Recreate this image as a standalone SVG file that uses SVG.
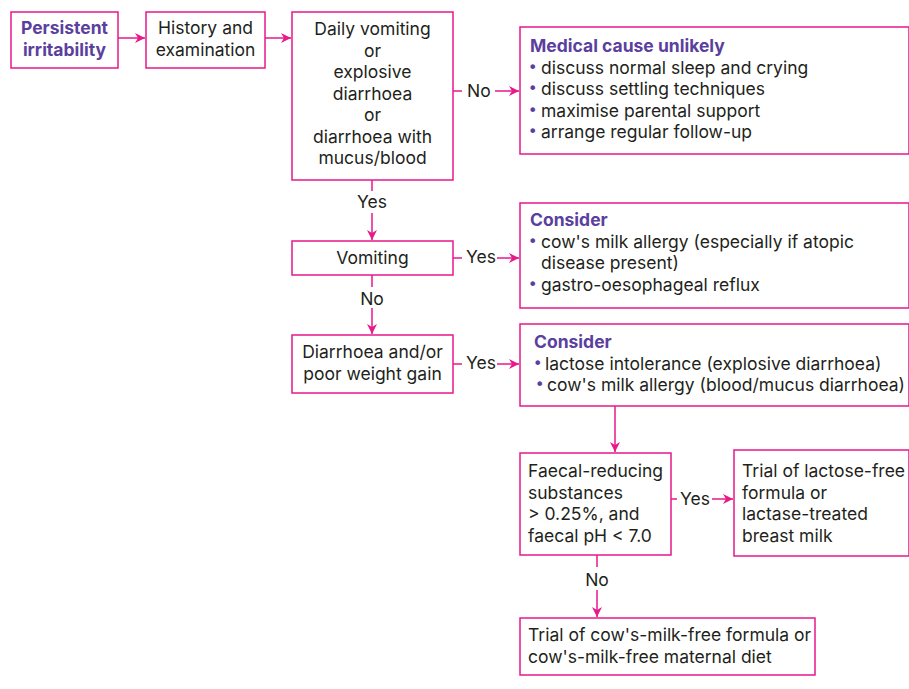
<svg xmlns="http://www.w3.org/2000/svg" width="909" height="689" viewBox="0 0 909 689">
<defs>
<marker id="ah" viewBox="0 0 10 10" refX="10" refY="5" markerWidth="10" markerHeight="10" markerUnits="userSpaceOnUse" orient="auto">
<path d="M0,0 L10,5 L0,10 L3,5 Z" fill="#E8198B"/>
</marker>
<style>
.box{fill:#fff;stroke:#E8198B;stroke-width:1.5}
.t{font-family:Inter,"Noto Sans",sans-serif;font-size:17.5px;fill:#231F20}
.h{font-family:Inter,"Noto Sans",sans-serif;font-size:17.5px;font-weight:700;fill:#5B3F9E}
.b{font-family:"DejaVu Sans",sans-serif;font-size:16px;fill:#5B3F9E}
.c{stroke:#E8198B;stroke-width:1.5;fill:none}
.ca{stroke:#E8198B;stroke-width:1.5;fill:none;marker-end:url(#ah)}
.m{text-anchor:middle}
</style>
</defs>
<rect width="909" height="689" fill="#fff"/>
<g id="connectors">
<line class="ca" x1="118" y1="38" x2="145" y2="38"/>
<line class="ca" x1="265" y1="38" x2="291" y2="38"/>
<line class="c" x1="453" y1="91" x2="462" y2="91"/>
<text class="t" x="467" y="97">No</text>
<line class="ca" x1="495" y1="91" x2="519" y2="91"/>
<line class="c" x1="372" y1="180" x2="372" y2="191"/>
<text class="t m" x="372" y="208">Yes</text>
<line class="ca" x1="372" y1="213" x2="372" y2="240"/>
<line class="c" x1="453" y1="258" x2="462" y2="258"/>
<text class="t" x="466" y="263">Yes</text>
<line class="ca" x1="497" y1="258" x2="519" y2="258"/>
<line class="c" x1="372" y1="275" x2="372" y2="287"/>
<text class="t m" x="372" y="305">No</text>
<line class="ca" x1="372" y1="308" x2="372" y2="334"/>
<line class="c" x1="453" y1="364" x2="462" y2="364"/>
<text class="t" x="466" y="369">Yes</text>
<line class="ca" x1="497" y1="364" x2="519" y2="364"/>
<line class="ca" x1="615" y1="406" x2="615" y2="452"/>
<line class="c" x1="671" y1="499" x2="677" y2="499"/>
<text class="t" x="680" y="505">Yes</text>
<line class="ca" x1="712" y1="499" x2="733" y2="499"/>
<line class="c" x1="597" y1="555" x2="597" y2="567"/>
<text class="t m" x="597" y="586">No</text>
<line class="ca" x1="597" y1="590" x2="597" y2="617"/>
</g>
<g id="n1">
<rect class="box" x="11" y="12" width="107" height="56"/>
<text class="h m" x="64.5" y="34">Persistent</text>
<text class="h m" x="64.5" y="56">irritability</text>
</g>
<g id="n2">
<rect class="box" x="146" y="12" width="119" height="56"/>
<text class="t m" x="205.5" y="34">History and</text>
<text class="t m" x="205.5" y="56">examination</text>
</g>
<g id="n3">
<rect class="box" x="292" y="12" width="161" height="168"/>
<text class="t m" x="372.5" y="35">Daily vomiting</text>
<text class="t m" x="372.5" y="57">or</text>
<text class="t m" x="372.5" y="78">explosive</text>
<text class="t m" x="372.5" y="100">diarrhoea</text>
<text class="t m" x="372.5" y="121">or</text>
<text class="t m" x="372.5" y="143">diarrhoea with</text>
<text class="t m" x="372.5" y="164">mucus/blood</text>
</g>
<g id="n4">
<rect class="box" x="520" y="27" width="389" height="127"/>
<text class="h" x="530" y="52">Medical cause unlikely</text>
<text class="b" x="528" y="73">•</text><text class="t" x="541" y="74">discuss normal sleep and crying</text>
<text class="b" x="528" y="94">•</text><text class="t" x="541" y="95">discuss settling techniques</text>
<text class="b" x="528" y="116">•</text><text class="t" x="541" y="117">maximise parental support</text>
<text class="b" x="528" y="137">•</text><text class="t" x="541" y="138">arrange regular follow-up</text>
</g>
<g id="n5">
<rect class="box" x="292" y="241" width="161" height="34"/>
<text class="t m" x="372.5" y="264">Vomiting</text>
</g>
<g id="n6">
<rect class="box" x="520" y="203" width="389" height="105"/>
<text class="h" x="530" y="226">Consider</text>
<text class="b" x="528" y="247">•</text><text class="t" x="541" y="248">cow's milk allergy (especially if atopic</text>
<text class="t" x="541" y="269">disease present)</text>
<text class="b" x="528" y="290">•</text><text class="t" x="541" y="291">gastro-oesophageal reflux</text>
</g>
<g id="n7">
<rect class="box" x="292" y="335" width="161" height="58"/>
<text class="t m" x="372.5" y="358">Diarrhoea and/or</text>
<text class="t m" x="372.5" y="380">poor weight gain</text>
</g>
<g id="n8">
<rect class="box" x="520" y="324" width="389" height="82"/>
<text class="h" x="534" y="348">Consider</text>
<text class="b" x="533" y="369">•</text><text class="t" x="545" y="370">lactose intolerance (explosive diarrhoea)</text>
<text class="b" x="535" y="390">•</text><text class="t" x="547" y="391">cow's milk allergy (blood/mucus diarrhoea)</text>
</g>
<g id="n9">
<rect class="box" x="520" y="453" width="151" height="102"/>
<text class="t" x="528" y="477">Faecal-reducing</text>
<text class="t" x="528" y="499">substances</text>
<text class="t" x="528" y="520">&gt; 0.25%, and</text>
<text class="t" x="528" y="542">faecal pH &lt; 7.0</text>
</g>
<g id="n10">
<rect class="box" x="734" y="450" width="175" height="106"/>
<text class="t" x="742" y="477">Trial of lactose-free</text>
<text class="t" x="742" y="499">formula or</text>
<text class="t" x="742" y="520">lactase-treated</text>
<text class="t" x="742" y="542">breast milk</text>
</g>
<g id="n11">
<rect class="box" x="520" y="618" width="295" height="57"/>
<text class="t" x="528" y="641">Trial of cow's-milk-free formula or</text>
<text class="t" x="528" y="663">cow's-milk-free maternal diet</text>
</g>
</svg>
